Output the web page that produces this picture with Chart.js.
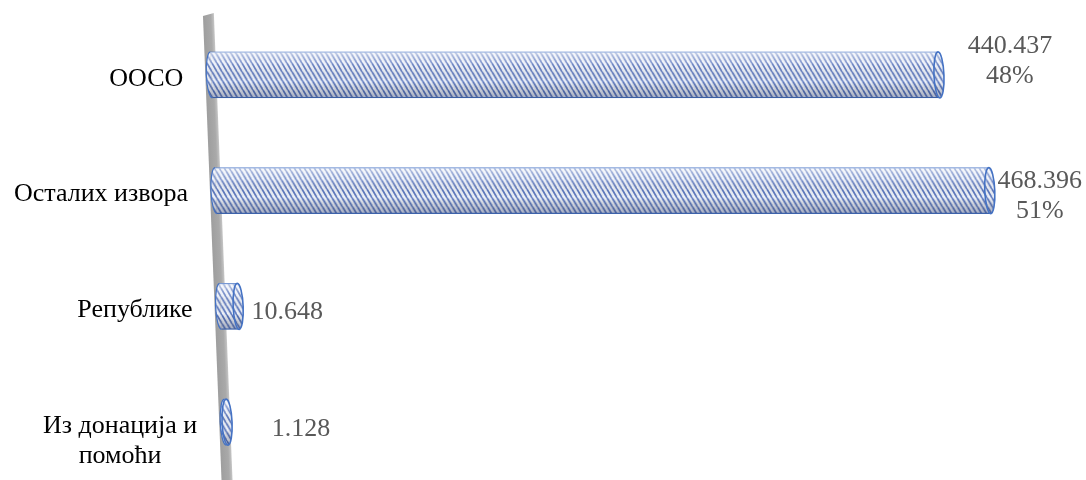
<!DOCTYPE html>
<html>
<head>
<meta charset="utf-8">
<script src="https://cdn.jsdelivr.net/npm/chart.js@4.4.1/dist/chart.umd.min.js"></script>
<style>
  html, body { margin: 0; padding: 0; background: #fff; }
  #wrap { width: 1086px; height: 480px; }
</style>
</head>
<body>
<div id="wrap"><canvas id="sourcesChart" width="1086" height="480"></canvas></div>
<script>
// Sources of funding (values in thousands, shown with "." separator)
const categories = ["ООСО", "Осталих извора", "Републике", ["Из донација и", "помоћи"]];
const amounts = [440437, 468396, 10648, 1128];

// label placement relative to the bar end (style only)
const labelDx = [71, 50, 49, 74];
const labelDy = [-14, 6, 6, 7];

const SKEW = 0.04; // the "3D" lean of the wall
const CAP = 5; // horizontal radius of the cylinder ends
const FONT = "26px 'Liberation Serif', 'Times New Roman', serif";

function fmt(n) {
  return String(n).replace(/\B(?=(\d{3})+(?!\d))/g, ".");
}

function makeStripes() {
  const w = 5, h = 9;
  const c = document.createElement("canvas");
  c.width = w;
  c.height = h;
  const g = c.getContext("2d");
  g.fillStyle = "#edf1f9";
  g.fillRect(0, 0, w, h);
  g.strokeStyle = "#5a76bd";
  g.lineWidth = 1.8;
  for (let n = -1; n <= 1; n++) {
    g.beginPath();
    g.moveTo(n * w, 0);
    g.lineTo(n * w + w, h);
    g.stroke();
  }
  return g.createPattern(c, "repeat");
}

const ctx = document.getElementById("sourcesChart").getContext("2d");
const stripes = makeStripes();

function shade(c, y, h) {
  const gr = c.createLinearGradient(0, y - h / 2, 0, y + h / 2);
  gr.addColorStop(0, "rgba(255,255,255,0.55)");
  gr.addColorStop(0.25, "rgba(255,255,255,0.15)");
  gr.addColorStop(0.65, "rgba(0,0,0,0)");
  gr.addColorStop(1, "rgba(40,55,100,0.35)");
  c.fillStyle = gr;
}

const cylinderPlugin = {
  id: "cylinder",
  beforeDatasetsDraw(chart) {
    const c = chart.ctx;
    const top = chart.chartArea.top;
    const left = chart.chartArea.left;
    c.save();
    c.transform(1, 0, SKEW, 1, -SKEW * top, 0);
    // grey wall behind the bars
    const wg = c.createLinearGradient(left - 6, 0, left + 5, 0);
    wg.addColorStop(0, "#9e9e9e");
    wg.addColorStop(0.7, "#a9a9a9");
    wg.addColorStop(1, "#c6c6c6");
    c.fillStyle = wg;
    c.beginPath();
    c.moveTo(left - 6, 16);
    c.lineTo(left + 5, 13);
    c.lineTo(left + 5, 495);
    c.lineTo(left - 6, 495);
    c.closePath();
    c.fill();
  },
  afterDatasetsDraw(chart) {
    const c = chart.ctx;
    const meta = chart.getDatasetMeta(0);
    meta.data.forEach((el) => {
      const h = el.height;
      const r = h / 2;
      // left rounded end
      c.beginPath();
      c.ellipse(el.base, el.y, CAP, r, 0, Math.PI / 2, Math.PI * 1.5);
      c.closePath();
      c.fillStyle = stripes;
      c.fill();
      // shading over body
      c.beginPath();
      c.ellipse(el.base, el.y, CAP, r, 0, Math.PI / 2, Math.PI * 1.5);
      c.lineTo(el.x, el.y - r);
      c.lineTo(el.x, el.y + r);
      c.closePath();
      shade(c, el.y, h);
      c.fill();
      c.strokeStyle = "#4472c4";
      c.lineWidth = 1.2;
      c.beginPath();
      c.ellipse(el.base, el.y, CAP, r, 0, Math.PI / 2, Math.PI * 1.5);
      c.stroke();
      // right end face
      c.beginPath();
      c.ellipse(el.x, el.y, CAP, r, 0, 0, Math.PI * 2);
      c.fillStyle = stripes;
      c.fill();
      shade(c, el.y, h);
      c.fill();
      c.strokeStyle = "#4472c4";
      c.lineWidth = 1.6;
      c.stroke();
    });
    c.restore();
  },
  afterDraw(chart) {
    const c = chart.ctx;
    const top = chart.chartArea.top;
    const meta = chart.getDatasetMeta(0);
    const total = amounts.reduce((a, b) => a + b, 0);
    c.save();
    c.font = FONT;
    c.textBaseline = "middle";
    meta.data.forEach((el, i) => {
      const shift = SKEW * (el.y - top);
      // category label, block right-aligned, lines centred
      const lines = Array.isArray(categories[i]) ? categories[i] : [categories[i]];
      const maxW = Math.max(...lines.map((t) => c.measureText(t).width));
      const right = el.base + shift - 28;
      c.fillStyle = "#000";
      c.textAlign = "center";
      lines.forEach((t, j) => {
        c.fillText(t, right - maxW / 2, el.y + 4 + j * 30);
      });
      // value label
      const share = amounts[i] / total;
      const vals = [fmt(amounts[i])];
      if (share >= 0.05) vals.push(Math.round(share * 100) + "%");
      const cx = el.x + shift + labelDx[i];
      const cy = el.y + labelDy[i] - ((vals.length - 1) * 30) / 2;
      c.fillStyle = "#595959";
      vals.forEach((t, j) => {
        c.fillText(t, cx, cy + j * 30);
      });
    });
    c.restore();
  },
};

new Chart(ctx, {
  type: "bar",
  data: {
    labels: categories,
    datasets: [
      {
        label: "Извори",
        data: amounts,
        backgroundColor: stripes,
        borderColor: "#4472c4",
        borderWidth: { top: 1.2, bottom: 1.2, left: 0, right: 0 },
        borderSkipped: false,
        barThickness: 46,
        clip: false,
      },
    ],
  },
  options: {
    indexAxis: "y",
    responsive: false,
    animation: false,
    devicePixelRatio: 1,
    layout: {
      padding: { left: 209, right: 84, top: 17, bottom: -3 },
    },
    scales: {
      x: { display: false, min: 0, max: 480000 },
      y: { display: false },
    },
    plugins: {
      legend: { display: false },
      tooltip: { enabled: false },
    },
  },
  plugins: [cylinderPlugin],
});
</script>
</body>
</html>
